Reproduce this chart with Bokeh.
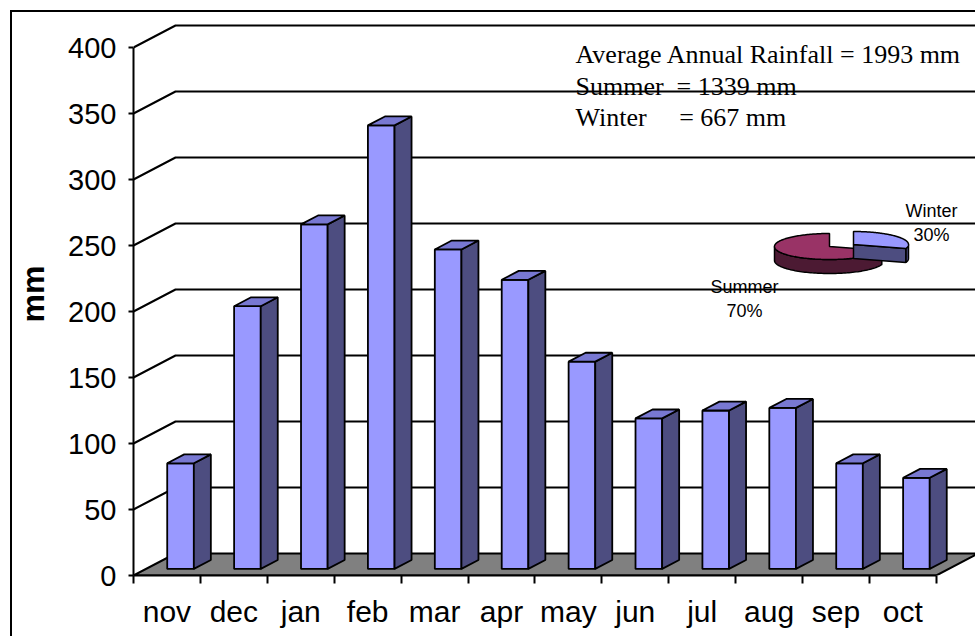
import numpy as np
from bokeh.plotting import figure
from bokeh.models import Range1d, FixedTicker
from bokeh.core.properties import value
from bokeh.embed import file_html
from bokeh.resources import INLINE

# ---------------- data ----------------
months = ["nov", "dec", "jan", "feb", "mar", "apr", "may", "jun", "jul", "aug", "sep", "oct"]
rainfall = [80, 199, 261, 336, 242, 219, 157, 114, 120, 122, 80, 69]
y_ticks = [0, 50, 100, 150, 200, 250, 300, 350, 400]
pie_labels = ["Summer", "Winter"]
pie_pct = [70, 30]
info_lines = ["Average Annual Rainfall = 1993 mm",
              "Summer\u00a0 = 1339 mm",
              "Winter\u00a0\u00a0\u00a0\u00a0 = 667 mm"]

# ---------------- layout / style constants ----------------
ORG = 12                      # canvas origin on the page (after css margin + border)
W, H = 977 - ORG, 638 - ORG
LEFT, BOTTOM = 133 - ORG, 638 - 575
PX_CAT, PX_MM = 66.9, 1.32
X_END = (W - LEFT) / PX_CAT
Y_END = (H - BOTTOM) / PX_MM


def px_x(px):   # page pixel -> data x (layout helper for annotations)
    return (px - 133) / PX_CAT


def px_y(py):   # page pixel -> data y
    return (575 - py) / PX_MM


DX, DY = 42 / PX_CAT, 22 / PX_MM          # depth of the 3D box
F0, T = 0.30, 0.405                        # bar front depth fraction, bar thickness
BAR_OFF, BAR_W = 0.504, 0.398

SANS = "Liberation Sans"
SERIF = "Liberation Serif"

p = figure(width=W, height=H, output_backend="svg", toolbar_location=None,
           x_range=Range1d(0, X_END), y_range=Range1d(0, Y_END),
           min_border_left=LEFT, min_border_bottom=BOTTOM,
           min_border_top=0, min_border_right=0,
           styles={"margin-left": "10px", "margin-top": "10px",
                   "border-left": "2px solid black", "border-top": "2px solid black"})
p.outline_line_color = None
p.xgrid.visible = False
p.ygrid.visible = False
p.background_fill_color = "white"
p.border_fill_color = "white"

# ---------------- axes ----------------
ya = p.yaxis[0]
ya.ticker = FixedTicker(ticks=y_ticks, minor_ticks=[])
ya.bounds = (0, max(y_ticks))
ya.axis_line_width = 2
ya.axis_line_color = "black"
ya.major_tick_line_width = 2
ya.major_tick_line_color = "black"
ya.major_tick_out = 5
ya.major_tick_in = 0
ya.major_label_standoff = 12
ya.major_label_text_font = SANS
ya.major_label_text_font_size = "29px"
ya.major_label_text_color = "black"
ya.axis_label = "mm"
ya.axis_label_text_font = SANS
ya.axis_label_text_font_style = "bold"
ya.axis_label_text_font_size = "32px"
ya.axis_label_text_color = "black"
ya.axis_label_standoff = 14

centers = [i + 0.5 for i in range(len(months))]
xa = p.xaxis[0]
xa.ticker = FixedTicker(ticks=centers, minor_ticks=list(range(len(months) + 1)))
xa.major_label_overrides = {c: m for c, m in zip(centers, months)}
xa.bounds = (0, len(months))
xa.axis_line_width = 2
xa.axis_line_color = "black"
xa.major_tick_out = 0
xa.major_tick_in = 0
xa.minor_tick_out = 8
xa.minor_tick_in = 0
xa.minor_tick_line_width = 2
xa.minor_tick_line_color = "black"
xa.major_label_standoff = 11
xa.major_label_text_font = SANS
xa.major_label_text_font_size = "30px"
xa.major_label_text_color = "black"

# ---------------- back wall gridlines & side wall ----------------
for v in y_ticks[1:]:
    p.line([0, DX, X_END + 1], [v, v + DY, v + DY], line_color="black", line_width=2)

# floor
n = len(months)
p.patch([0, DX, n + DX, n], [0, DY, DY, 0], fill_color="#808080",
        line_color="black", line_width=2)

# ---------------- bars ----------------
yb = F0 * DY
ddx, ddy = T * DX, T * DY
fx, fy, sx, sy, tx, ty = [], [], [], [], [], []
for i, v in enumerate(rainfall):
    x0 = i + BAR_OFF
    x1 = x0 + BAR_W
    fx.append([x0, x1, x1, x0]); fy.append([yb, yb, yb + v, yb + v])
    sx.append([x1, x1 + ddx, x1 + ddx, x1]); sy.append([yb, yb + ddy, yb + v + ddy, yb + v])
    tx.append([x0, x1, x1 + ddx, x0 + ddx]); ty.append([yb + v, yb + v, yb + v + ddy, yb + v + ddy])
p.patches(fx, fy, fill_color="#9999FF", line_color="black", line_width=1.8)
p.patches(sx, sy, fill_color="#4D4D80", line_color="black", line_width=1.8)
p.patches(tx, ty, fill_color="#7878D2", line_color="black", line_width=1.8)

# ---------------- 3D pie ----------------
PCX, PCY = px_x(829), px_y(246)
PRX, PRY, PH = 55 / PX_CAT, 13 / PX_MM, 14 / PX_MM
EXPLODE = [(0.0, 0.0), (24 / PX_CAT, 2 / PX_MM)]
top_cols = ["#993366", "#9999FF"]
side_cols = ["#4C1A33", "#4D4D80"]

start = 90.0
for k, pct in enumerate(pie_pct):
    a0 = start
    a1 = start + 360.0 * pct / 100.0
    start = a1
    cx = PCX + EXPLODE[k][0]
    cy = PCY + EXPLODE[k][1]
    segs = []
    for base in (0, 360):
        s0 = max(a0, 180 + base)
        s1 = min(a1, 360 + base)
        if s1 > s0:
            segs.append((s0, s1))
    for s0, s1 in segs:
        th = np.radians(np.linspace(s0, s1, 80))
        ax = cx + PRX * np.cos(th)
        ay = cy + PRY * np.sin(th)
        p.patch(list(ax) + list(ax[::-1]), list(ay) + list(ay[::-1] - PH),
                fill_color=side_cols[k], line_color="black", line_width=1.5)
    for ang, sign in ((a0, -1), (a1, 1)):
        r = np.radians(ang)
        ny = np.cos(r) * sign
        if ny < -1e-6:
            ex, ey = cx + PRX * np.cos(r), cy + PRY * np.sin(r)
            p.patch([cx, ex, ex, cx], [cy, ey, ey - PH, cy - PH],
                    fill_color=side_cols[k], line_color="black", line_width=1.5)
    th = np.radians(np.linspace(a0, a1, 160))
    p.patch([cx] + list(cx + PRX * np.cos(th)), [cy] + list(cy + PRY * np.sin(th)),
            fill_color=top_cols[k], line_color="black", line_width=1.5)

# pie labels
lab_x = [px_x(744), px_x(931)]
lab_y = [px_y(286), px_y(210.7)]
pct_y = [px_y(310), px_y(234)]
p.text(lab_x, lab_y, text=pie_labels, text_font=value(SANS), text_font_size="18px",
       text_align="center", text_baseline="alphabetic", text_color="black")
p.text(lab_x, pct_y, text=[f"{v}%" for v in pie_pct], text_font=value(SANS),
       text_font_size="18px", text_align="center", text_baseline="alphabetic",
       text_color="black")

# info text block
info_x = [px_x(575)] * 3
info_y = [px_y(b) for b in (54.3, 85.5, 117.3)]
p.text(info_x, info_y, text=info_lines, text_font=value(SERIF), text_font_size="26px",
       text_align="left", text_baseline="alphabetic", text_color="black")

open("out.html", "w").write(file_html(p, INLINE))
